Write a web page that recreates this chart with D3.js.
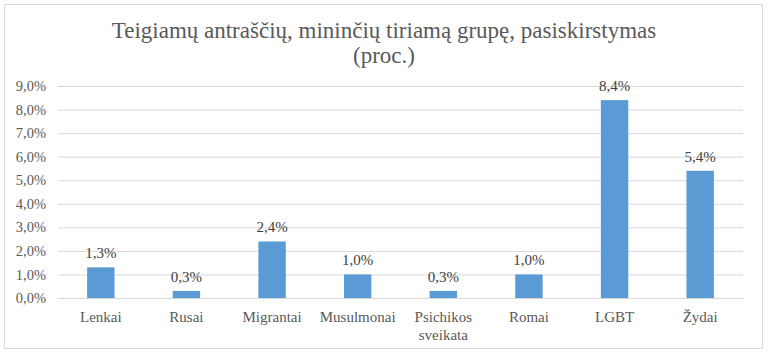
<!DOCTYPE html>
<html><head><meta charset="utf-8">
<script src="https://cdn.jsdelivr.net/npm/d3@7"></script>
<style>body{margin:0;background:#fff}svg{display:block}
svg text{font-family:"Liberation Serif","Times New Roman","DejaVu Serif",serif !important;}</style>
</head><body>
<svg id="c" width="768" height="357"></svg>
<script>
const categories = ["Lenkai","Rusai","Migrantai","Musulmonai","Psichikos sveikata","Romai","LGBT","Žydai"];
const values = [1.3,0.3,2.4,1.0,0.3,1.0,8.4,5.4];
const tickValues = [0,1,2,3,4,5,6,7,8,9];
const titleLines = ["Teigiamų antraščių, mininčių tiriamą grupę, pasiskirstymas","(proc.)"];

const svg = d3.select("#c");
const fmt = v => v.toFixed(1).replace(".", ",") + "%";

svg.append("rect").attr("x",4.5).attr("y",4.5).attr("width",758).attr("height",344)
  .attr("fill","#fff").attr("stroke","#d9d9d9").attr("stroke-width",1);

svg.append("g").selectAll("text").data(titleLines).join("text")
  .attr("x",384).attr("y",(d,i)=>38+i*25).attr("text-anchor","middle")
  .attr("font-size",23).attr("fill","#595959").text(d=>d);

const x = d3.scaleBand().domain(categories).range([58,743]).paddingInner(0.68).paddingOuter(0.34);
const y = d3.scaleLinear().domain([0,9]).range([298,86]);

const yAxis = svg.append("g").attr("transform","translate(58,0)")
  .call(d3.axisLeft(y).tickValues(tickValues).tickFormat(fmt).tickSize(-685).tickPadding(12));
yAxis.select(".domain").remove();
yAxis.selectAll(".tick line").attr("stroke","#d9d9d9");
yAxis.selectAll(".tick text").attr("font-size",14.5).attr("fill","#595959");

svg.append("g").selectAll("rect").data(values).join("rect")
  .attr("x",(d,i)=>x(categories[i])).attr("width",x.bandwidth())
  .attr("y",d=>y(d)).attr("height",d=>y(0)-y(d)).attr("fill","#5b9bd5");

svg.append("g").selectAll("text").data(values).join("text")
  .attr("x",(d,i)=>x(categories[i])+x.bandwidth()/2).attr("y",d=>y(d)-9)
  .attr("text-anchor","middle").attr("font-size",15).attr("fill","#404040")
  .text(fmt);

const xAxis = svg.append("g").attr("transform","translate(0,298)")
  .call(d3.axisBottom(x).tickSize(0).tickPadding(14).tickFormat(""));
xAxis.select(".domain").attr("stroke","#d9d9d9");
xAxis.selectAll(".tick").each(function(d){
  const words = d === "Psichikos sveikata" ? ["Psichikos","sveikata"] : [d];
  const t = d3.select(this).append("text").attr("y",24).attr("text-anchor","middle")
    .attr("font-size",15).attr("fill","#595959");
  words.forEach((w,i)=>t.append("tspan").attr("x",0).attr("dy",i?18:0).text(w));
});
</script>
</body></html>
